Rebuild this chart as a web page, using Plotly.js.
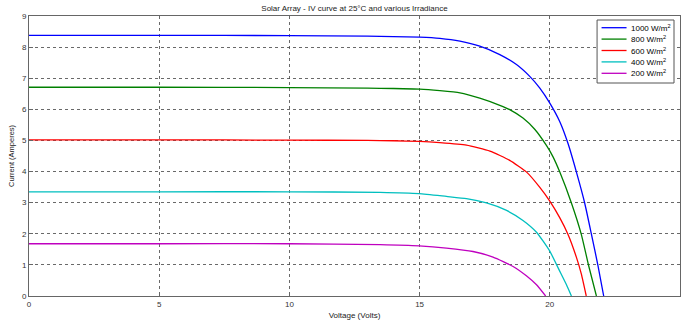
<!DOCTYPE html>
<html>
<head>
<meta charset="utf-8">
<script src="https://cdn.plot.ly/plotly-3.0.1.min.js"></script>
<style>html,body{margin:0;padding:0;background:#fff;}#chart{width:681px;height:322px;}</style>
</head>
<body>
<div id="chart"></div>
<script>
// ---- data ----
const seriesNames = ["1000 W/m<sup>2</sup>", "800 W/m<sup>2</sup>", "600 W/m<sup>2</sup>", "400 W/m<sup>2</sup>", "200 W/m<sup>2</sup>"];
const seriesColors = ["#0000ff", "#008000", "#ff0000", "#00bfbf", "#bf00bf"];

const v1000 = [0, 5, 10, 13, 14, 15, 15.78, 16.55, 17.31, 18.08, 18.72, 19.23, 19.61, 20.0, 20.38, 20.7, 21.02, 21.34, 21.6, 21.85, 22.07];
const i1000 = [8.38, 8.38, 8.37, 8.35, 8.34, 8.32, 8.28, 8.19, 8.03, 7.76, 7.44, 7.06, 6.69, 6.20, 5.61, 4.90, 3.99, 2.99, 1.98, 0.98, 0];

const v800 = [0, 5, 10, 13, 14, 15, 15.78, 16.55, 17.31, 18.08, 18.46, 18.97, 19.42, 19.87, 20.12, 20.38, 20.83, 21.21, 21.49, 21.79];
const i800 = [6.71, 6.71, 6.70, 6.68, 6.67, 6.65, 6.60, 6.53, 6.36, 6.13, 5.99, 5.72, 5.36, 4.84, 4.48, 3.99, 2.99, 1.98, 0.98, 0];

const v600 = [0, 5, 10, 13, 14, 15, 15.78, 16.8, 17.7, 18.46, 19.1, 19.61, 20.0, 20.38, 20.7, 21.02, 21.21, 21.4];
const i600 = [5.02, 5.02, 5.01, 5.00, 4.99, 4.97, 4.93, 4.85, 4.66, 4.36, 3.99, 3.50, 3.05, 2.52, 1.98, 1.25, 0.71, 0];

const v400 = [0, 5, 10, 13.48, 14.98, 16.03, 16.8, 17.57, 18.34, 18.97, 19.49, 20.0, 20.38, 20.64, 20.83];
const i400 = [3.35, 3.35, 3.35, 3.33, 3.29, 3.20, 3.13, 2.99, 2.75, 2.43, 2.05, 1.44, 0.80, 0.36, 0];

const v200 = [0, 5, 10, 13.48, 14.98, 16.03, 17.05, 17.82, 18.59, 19.1, 19.49, 19.84];
const i200 = [1.68, 1.68, 1.68, 1.65, 1.61, 1.54, 1.43, 1.25, 0.95, 0.65, 0.36, 0];

const xTickStep = 5;
const yTickStep = 1;

const titleText = "Solar Array - IV curve at 25°C and various Irradiance";
const xTitle = "Voltage (Volts)";
const yTitle = "Current (Amperes)";

// ---- build ----
const W = 681, H = 322;
const M = {l: 28.5, r: 1, t: 16, b: 26};
const pw = W - M.l - M.r, ph = H - M.t - M.b;
const px = x => (x - M.l) / pw;          // pixel -> paper x
const py = y => (H - M.b - y) / ph;      // pixel -> paper y

const vs = [v1000, v800, v600, v400, v200];
const is = [i1000, i800, i600, i400, i200];

const traces = vs.map((v, k) => ({
  x: v, y: is[k], type: "scatter", mode: "lines", name: seriesNames[k],
  line: {color: seriesColors[k], width: 1.3, shape: "spline", smoothing: 0.5},
  showlegend: false, hoverinfo: "skip"
}));

const font = "Arial, 'Liberation Sans', sans-serif";

// custom compact legend (MATLAB style)
const shapes = [{
  type: "rect", xref: "paper", yref: "paper",
  x0: px(597), x1: px(674), y0: py(83), y1: py(20),
  line: {color: "#555", width: 1}, fillcolor: "#fff", layer: "above"
}];
const annotations = [];
const itemY = [27.7, 39.1, 50.5, 61.9, 73.3];
seriesNames.forEach((n, k) => {
  shapes.push({type: "line", xref: "paper", yref: "paper",
    x0: px(601.5), x1: px(626.5), y0: py(itemY[k]), y1: py(itemY[k]),
    line: {color: seriesColors[k], width: 1.3}, layer: "above"});
  annotations.push({xref: "paper", yref: "paper", x: px(629), y: py(itemY[k]),
    xanchor: "left", yanchor: "middle", text: n, showarrow: false,
    font: {family: font, size: 8, color: "#000"}});
});

const axisCommon = {
  showline: true, mirror: true, linecolor: "#666", linewidth: 1,
  ticks: "inside", ticklen: 4, tickcolor: "#666",
  showgrid: true, gridcolor: "#444", griddash: "dot", gridwidth: 0.8,
  zeroline: false, tickfont: {family: font, size: 8, color: "#333"}
};

const layout = {
  width: W, height: H,
  margin: M,
  paper_bgcolor: "#fff", plot_bgcolor: "#fff",
  title: {text: titleText, x: 0.5, xref: "paper", y: 1 - 8 / H, yref: "container", yanchor: "middle",
          font: {family: font, size: 8, color: "#222"}},
  xaxis: Object.assign({}, axisCommon, {
    range: [0, 25], tickmode: "linear", tick0: 0, dtick: xTickStep,
    title: {text: xTitle, standoff: 4, font: {family: font, size: 8, color: "#222"}}
  }),
  yaxis: Object.assign({}, axisCommon, {
    range: [0, 9], tickmode: "linear", tick0: 0, dtick: yTickStep,
    title: {text: yTitle, standoff: 6, font: {family: font, size: 7.5, color: "#222"}}
  }),
  shapes: shapes,
  annotations: annotations,
  showlegend: false
};

Plotly.newPlot("chart", traces, layout, {staticPlot: true, displayModeBar: false});
</script>
</body>
</html>
